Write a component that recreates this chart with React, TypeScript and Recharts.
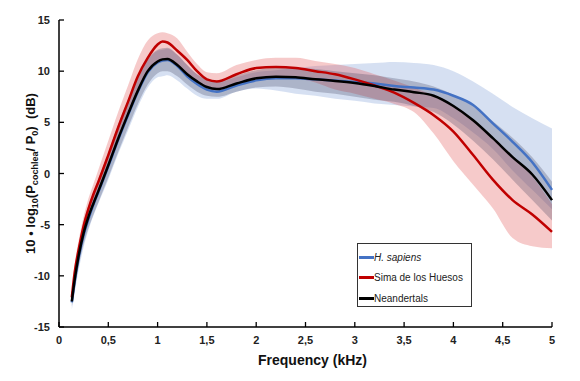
import { Area, ComposedChart, Label, Legend, Line, XAxis, YAxis } from "recharts";

// frequency (kHz) sample points
const freq = [0.13, 0.16, 0.2, 0.25, 0.3, 0.35, 0.4, 0.5, 0.6, 0.7, 0.8, 0.9, 1.0, 1.05, 1.1, 1.2, 1.3, 1.4, 1.5, 1.6, 1.8, 2.0, 2.2, 2.4, 2.6, 2.8, 3.0, 3.2, 3.4, 3.6, 3.8, 4.0, 4.2, 4.4, 4.6, 4.8, 5.0];

const sapiensMean = [-12.6, -10.5, -8.2, -6.0, -4.4, -3.0, -1.8, 0.7, 3.3, 5.7, 8.0, 9.9, 10.85, 11.05, 11.1, 10.5, 9.5, 8.75, 8.2, 8.0, 8.6, 9.1, 9.3, 9.3, 9.2, 9.1, 8.95, 8.8, 8.55, 8.4, 8.2, 7.6, 6.7, 4.9, 3.1, 1.1, -1.6];
const sapiensLow = [-13.3, -11.6, -9.4, -7.2, -5.5, -4.1, -2.9, -0.6, 1.9, 4.2, 6.5, 8.4, 9.4, 9.5, 9.6, 9.1, 8.3, 7.6, 7.3, 7.3, 8.0, 8.3, 8.1, 7.8, 7.6, 7.3, 7.1, 6.85, 6.7, 6.55, 6.4, 5.4, 4.0, 2.4, 0.3, -1.6, -3.5];
const sapiensHigh = [-12.0, -9.5, -7.1, -4.9, -3.3, -1.9, -0.6, 2.0, 4.7, 7.1, 9.4, 11.1, 12.0, 12.1, 12.2, 11.6, 10.6, 9.7, 9.2, 8.9, 9.4, 9.9, 10.1, 10.3, 10.5, 10.6, 10.7, 10.8, 10.9, 10.8, 10.6, 10.0, 9.0, 7.8, 6.5, 5.4, 4.4];

const simaMean = [-12.1, -9.6, -7.4, -5.1, -3.4, -2.0, -0.8, 1.8, 4.5, 7.0, 9.5, 11.3, 12.6, 12.9, 12.8, 12.0, 11.1, 10.0, 9.2, 9.0, 9.7, 10.3, 10.4, 10.3, 10.0, 9.7, 9.2, 8.6, 7.9, 6.9, 5.7, 4.1, 1.8, -0.6, -2.6, -4.0, -5.7];
const simaLow = [-12.6, -10.4, -8.3, -6.0, -4.4, -3.0, -1.9, 0.6, 3.2, 5.6, 8.0, 9.8, 11.0, 11.2, 11.2, 10.6, 9.8, 9.0, 8.4, 8.3, 8.9, 9.4, 9.5, 9.3, 8.9, 8.2, 7.8, 7.3, 6.8, 6.0, 3.9, 1.2, -1.1, -3.4, -6.3, -7.1, -7.3];
const simaHigh = [-11.6, -8.8, -6.5, -4.2, -2.4, -1.0, 0.4, 3.2, 6.0, 8.6, 11.2, 13.0, 13.7, 13.8, 13.7, 13.2, 11.9, 10.7, 9.9, 9.8, 10.6, 11.1, 11.3, 11.3, 11.0, 10.7, 10.3, 9.7, 9.1, 8.4, 7.6, 6.6, 5.2, 3.5, 1.7, -0.3, -3.0];

const neanMean = [-12.5, -10.3, -8.0, -5.8, -4.2, -2.9, -1.7, 0.8, 3.4, 5.8, 8.1, 10.0, 10.95, 11.15, 11.2, 10.6, 9.7, 9.0, 8.45, 8.25, 8.8, 9.3, 9.45, 9.4, 9.2, 9.05, 8.85, 8.55, 8.2, 7.95, 7.6, 6.6, 5.2, 3.45, 1.6, -0.1, -2.6];
const neanLow = [-13.0, -11.3, -9.0, -6.9, -5.3, -4.0, -2.8, -0.4, 2.1, 4.5, 6.8, 8.7, 9.8, 10.0, 10.0, 9.5, 8.7, 8.0, 7.6, 7.5, 8.0, 8.4, 8.5, 8.3, 8.0, 7.8, 7.5, 7.2, 7.0, 6.6, 6.0, 4.8, 3.2, 1.4, -0.6, -2.6, -4.6];
const neanHigh = [-12.0, -9.3, -7.0, -4.7, -3.1, -1.8, -0.5, 2.0, 4.8, 7.2, 9.5, 11.2, 12.1, 12.25, 12.3, 11.6, 10.6, 9.7, 9.2, 9.0, 9.6, 10.1, 10.3, 10.3, 10.2, 10.0, 9.8, 9.6, 9.3, 9.0, 8.5, 7.7, 6.6, 5.1, 3.5, 1.6, -0.8];

const xTicks = [0, 0.5, 1, 1.5, 2, 2.5, 3, 3.5, 4, 4.5, 5];
const yTicks = [-15, -10, -5, 0, 5, 10, 15];

const legendNames = ["H. sapiens", "Sima de los Huesos", "Neandertals"];
const legendColors = ["#4472C4", "#C00000", "#000000"];

const rows = freq.map((f, i) => ({
  f,
  sp: sapiensMean[i],
  spBand: [sapiensLow[i], sapiensHigh[i]],
  sh: simaMean[i],
  shBand: [simaLow[i], simaHigh[i]],
  ne: neanMean[i],
  neBand: [neanLow[i], neanHigh[i]],
}));

const FONT = "'Liberation Sans', Arial, sans-serif";

function YTick({ x, y, payload }: any) {
  return (
    <g>
      <line x1={x + 9} y1={y} x2={x + 14} y2={y} stroke="#000" strokeWidth={1.3} />
      <text x={x} y={y} dy={4} textAnchor="end" fontSize={11} fontWeight="bold" fill="#222" fontFamily={FONT}>
        {payload.value}
      </text>
    </g>
  );
}

function XTick({ x, y, payload }: any) {
  return (
    <g>
      <line x1={x} y1={y} x2={x} y2={y - 5} stroke="#000" strokeWidth={1.3} />
      <text x={x} y={y + 17} textAnchor="middle" fontSize={11} fontWeight="bold" fill="#222" fontFamily={FONT}>
        {String(payload.value).replace(".", ",")}
      </text>
    </g>
  );
}

function YTitle({ viewBox }: any) {
  const cy = viewBox.y + viewBox.height / 2;
  return (
    <text
      transform={`translate(27,${cy}) rotate(-90)`}
      textAnchor="middle"
      fontSize={13}
      fontWeight="bold"
      fill="#111"
      fontFamily={FONT}
      style={{ whiteSpace: "pre" }}
    >
      10 • log<tspan fontSize={9} dy={3}>10</tspan>
      <tspan dy={-3}>(P</tspan>
      <tspan fontSize={9} dy={3}>cochlea</tspan>
      <tspan dy={-3}>/ P</tspan>
      <tspan fontSize={9} dy={3}>0</tspan>
      <tspan dy={-3}>)  (dB)</tspan>
    </text>
  );
}

function XTitle({ viewBox }: any) {
  return (
    <text
      x={viewBox.x + viewBox.width / 2 + 7}
      y={viewBox.y + 38}
      textAnchor="middle"
      fontSize={14}
      fontWeight="bold"
      fill="#111"
      fontFamily={FONT}
    >
      Frequency (kHz)
    </text>
  );
}

function LegendBox() {
  return (
    <div
      style={{
        border: "1px solid #333",
        background: "#fff",
        width: 115,
        height: 64,
        boxSizing: "border-box",
        padding: "3px 0 0 1px",
        fontFamily: FONT,
        fontSize: 10,
        color: "#222",
      }}
    >
      {legendNames.map((n, i) => (
        <div key={n} style={{ display: "flex", alignItems: "center", height: 20.5 }}>
          <span style={{ width: 15, height: 3, background: legendColors[i], display: "inline-block" }} />
          <span style={{ fontStyle: i === 0 ? "italic" : "normal" }}>{n}</span>
        </div>
      ))}
    </div>
  );
}

export default function App() {
  return (
    <ComposedChart
      width={564}
      height={365}
      data={rows}
      margin={{ top: 12, right: 20, left: 10, bottom: 0 }}
      style={{ fontFamily: FONT }}
    >
      <XAxis
        dataKey="f"
        type="number"
        domain={[0, 5]}
        ticks={xTicks}
        height={46}
        tickSize={0}
        tickMargin={0}
        tickLine={false}
        tick={<XTick />}
        axisLine={{ stroke: "#000", strokeWidth: 1.5 }}
        interval={0}
      >
        <Label content={<XTitle />} />
      </XAxis>
      <YAxis
        type="number"
        domain={[-15, 15]}
        ticks={yTicks}
        width={41}
        tickSize={0}
        tickMargin={9}
        tickLine={false}
        tick={<YTick />}
        axisLine={{ stroke: "#000", strokeWidth: 1.5 }}
        interval={0}
      >
        <Label content={<YTitle />} />
      </YAxis>
      <Area type="monotone" dataKey="spBand" stroke="none" fill="#4472C4" fillOpacity={0.22} isAnimationActive={false} legendType="none" />
      <Area type="monotone" dataKey="shBand" stroke="none" fill="#e05050" fillOpacity={0.3} isAnimationActive={false} legendType="none" />
      <Area type="monotone" dataKey="neBand" stroke="none" fill="#303050" fillOpacity={0.25} isAnimationActive={false} legendType="none" />
      <Line type="monotone" dataKey="sp" stroke="#4472C4" strokeWidth={2.5} dot={false} isAnimationActive={false} />
      <Line type="monotone" dataKey="sh" stroke="#C00000" strokeWidth={2.5} dot={false} isAnimationActive={false} />
      <Line type="monotone" dataKey="ne" stroke="#000000" strokeWidth={2.5} dot={false} isAnimationActive={false} />
      <Legend
        layout="vertical"
        align="center"
        verticalAlign="middle"
        content={<LegendBox />}
        wrapperStyle={{ left: 349, top: 235, width: 115, height: 64 }}
      />
    </ComposedChart>
  );
}
